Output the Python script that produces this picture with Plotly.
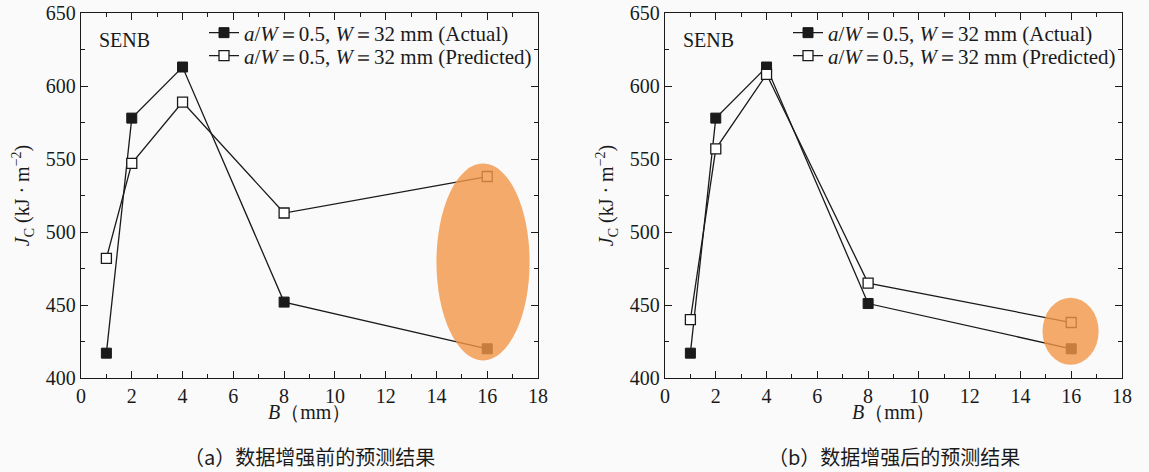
import plotly.graph_objects as go

# ---- data ----
B_mm = [1, 2, 4, 8, 16]
actual_a = [417, 578, 613, 452, 420]
predicted_a = [482, 547, 589, 513, 538]
actual_b = [417, 578, 613, 451, 420]
predicted_b = [440, 557, 608, 465, 438]

# highlight ellipse extents (data units): [x0, x1, y0, y1]
ellipse_a = [14.0, 17.67, 412, 547]
ellipse_b = [14.87, 17.08, 409, 455]

x_ticks = [0, 2, 4, 6, 8, 10, 12, 14, 16, 18]
y_ticks = [400, 450, 500, 550, 600, 650]

label_act = "<i>a</i>/<i>W</i>＝0.5, <i>W</i>＝32 mm (Actual)"
label_pred = "<i>a</i>/<i>W</i>＝0.5, <i>W</i>＝32 mm (Predicted)"
captions = ["（a）数据增强前的预测结果", "（b）数据增强后的预测结果"]
x_title = "<i>B</i>（mm）"
y_title = "<i>J</i><sub>C</sub> (kJ · m<sup>−2</sup>)"

SERIF = "Liberation Serif"
CJK = "Noto Sans CJK SC"
BG = "#fafafa"
INK = "#1a1a1a"

W, H = 1149, 472
L, R, T, Bm = 81, W - 1122, 13, H - 378
PW, PH = W - L - R, H - T - Bm
xdom = [[0, (538 - L) / PW], [(665 - L) / PW, 1]]
legend_rows = [1 - (33 - T) / PH, 1 - (56 - T) / PH]

fig = go.Figure()

panels = [(actual_a, predicted_a, ellipse_a), (actual_b, predicted_b, ellipse_b)]
for i, (act, pred, ell) in enumerate(panels):
    xa = "x" if i == 0 else "x2"
    ya = "y" if i == 0 else "y2"
    lg_act = "legend" if i == 0 else "legend3"
    lg_pred = "legend2" if i == 0 else "legend4"
    fig.add_trace(go.Scatter(
        x=B_mm, y=act, mode="lines+markers", name=label_act,
        line=dict(color=INK, width=1.3),
        marker=dict(symbol="square", size=10, color=INK,
                    line=dict(color=INK, width=1)),
        xaxis=xa, yaxis=ya, legend=lg_act))
    fig.add_trace(go.Scatter(
        x=B_mm, y=pred, mode="lines+markers", name=label_pred,
        line=dict(color=INK, width=1.3),
        marker=dict(symbol="square", size=10, color="white",
                    line=dict(color=INK, width=1.3)),
        xaxis=xa, yaxis=ya, legend=lg_pred))
    fig.add_shape(type="circle", xref=xa, yref=ya,
                  x0=ell[0], x1=ell[1], y0=ell[2], y1=ell[3],
                  fillcolor="rgb(243,150,70)", opacity=0.8,
                  line=dict(width=0), layer="above")

axis_common = dict(
    showline=True, linecolor=INK, linewidth=1.3, mirror="allticks",
    ticks="inside", ticklen=7, tickwidth=1.2, tickcolor=INK,
    showgrid=False, zeroline=False, automargin=False,
    ticklabeloverflow="allow",
    tickfont=dict(family=SERIF, size=20, color=INK),
)
xaxis_kw = dict(axis_common, range=[0, 18], tickvals=x_ticks,
                minor=dict(dtick=1, tick0=0, ticks="inside", ticklen=4,
                           tickcolor=INK, tickwidth=1))
yaxis_kw = dict(axis_common, range=[400, 650], tickvals=y_ticks,
                minor=dict(dtick=25, tick0=400, ticks="inside", ticklen=4,
                           tickcolor=INK, tickwidth=1),
                title=dict(text=y_title,
                           font=dict(family=SERIF, size=20, color=INK),
                           standoff=10))

legend_kw = dict(yanchor="middle", xanchor="left",
                 bgcolor="rgba(0,0,0,0)",
                 font=dict(family=SERIF, size=21, color=INK),
                 tracegroupgap=0)
lx = [(204 - L) / PW, (788 - L) / PW]

fig.update_layout(
    width=W, height=H,
    margin=dict(l=L, r=R, t=T, b=Bm, autoexpand=False),
    paper_bgcolor=BG, plot_bgcolor=BG,
    showlegend=True,
    xaxis=dict(xaxis_kw, domain=xdom[0], anchor="y"),
    yaxis=dict(yaxis_kw, domain=[0, 1], anchor="x"),
    xaxis2=dict(xaxis_kw, domain=xdom[1], anchor="y2"),
    yaxis2=dict(yaxis_kw, domain=[0, 1], anchor="x2"),
    legend=dict(legend_kw, x=lx[0], y=legend_rows[0]),
    legend2=dict(legend_kw, x=lx[0], y=legend_rows[1]),
    legend3=dict(legend_kw, x=lx[1], y=legend_rows[0]),
    legend4=dict(legend_kw, x=lx[1], y=legend_rows[1]),
)

for i, xr in enumerate(["x domain", "x2 domain"]):
    yr = "y domain" if i == 0 else "y2 domain"
    fig.add_annotation(text="SENB", xref=xr, yref=yr, x=0.035, y=0.925,
                       xanchor="left", yanchor="middle", showarrow=False,
                       font=dict(family=SERIF, size=20, color=INK))
    fig.add_annotation(text=x_title, xref=xr, yref=yr, x=0.5,
                       y=-(412 - 378) / PH, xanchor="center",
                       yanchor="middle", showarrow=False,
                       font=dict(family=SERIF, size=20, color=INK))
    cx = (xdom[i][0] + xdom[i][1]) / 2
    fig.add_annotation(text=captions[i], xref="paper", yref="paper",
                       x=cx, y=-(457 - 378) / PH, xanchor="center",
                       yanchor="middle", showarrow=False,
                       font=dict(family=CJK, size=20, color=INK))

# the page body has a default 8px margin; remove it so the figure sits at the corner
fig.write_html("out.html",
               config={"displayModeBar": False},
               post_script="document.body.style.margin='0';")
